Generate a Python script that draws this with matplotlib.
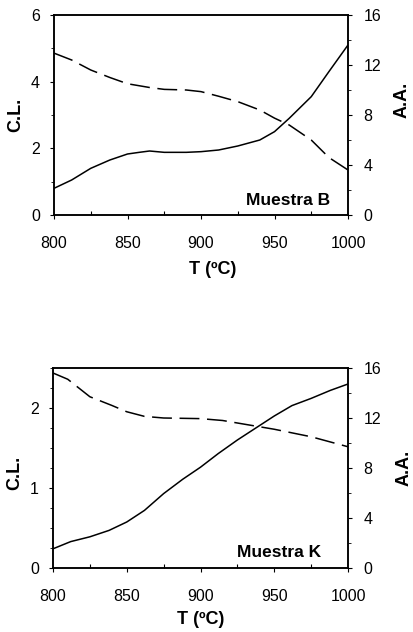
import matplotlib
matplotlib.use("Agg")
import matplotlib.pyplot as plt
from matplotlib.ticker import MultipleLocator

plt.rcParams['font.family'] = ['Liberation Sans', 'DejaVu Sans']

# Muestra B
tB_cl = [800, 812, 825, 838, 850, 858, 865, 875, 890, 900, 912, 925, 940, 950, 960, 975, 987, 1000]
clB   = [0.8, 1.05, 1.4, 1.65, 1.83, 1.88, 1.92, 1.88, 1.88, 1.9, 1.95, 2.07, 2.25, 2.5, 2.9, 3.55, 4.3, 5.1]
tB_aa = [800, 812, 825, 838, 850, 865, 875, 890, 900, 912, 925, 940, 950, 960, 975, 987, 1000]
aaB   = [12.95, 12.4, 11.6, 11.0, 10.5, 10.2, 10.05, 10.0, 9.87, 9.5, 9.07, 8.4, 7.75, 7.2, 6.0, 4.6, 3.6]

# Muestra K
tK_cl = [800, 812, 825, 838, 850, 862, 875, 888, 900, 912, 925, 940, 950, 962, 975, 988, 1000]
clK   = [0.24, 0.33, 0.39, 0.47, 0.575, 0.72, 0.93, 1.11, 1.26, 1.43, 1.6, 1.78, 1.9, 2.03, 2.12, 2.22, 2.3]
tK_aa = [800, 810, 825, 840, 850, 862, 875, 900, 915, 925, 940, 950, 975, 1000]
aaK   = [15.6, 15.1, 13.7, 13.0, 12.5, 12.13, 12.0, 11.95, 11.8, 11.6, 11.3, 11.1, 10.5, 9.7]

xticks = [800, 850, 900, 950, 1000]
lw = 1.1
fs = 11.5
lfs = 13

fig = plt.figure(figsize=(4.13, 6.32), dpi=100)

def setup(rect, tcl, cl, taa, aa, clmax, clmajor, clminor, name, name_pos, lab_cl, lab_aa, lab_x):
    ax = fig.add_axes(rect)
    ax2 = ax.twinx()
    ax.plot(tcl, cl, color='black', lw=lw, solid_capstyle='butt')
    ax2.plot(taa, aa, color='black', lw=lw, dashes=(13, 5))
    ax.set_xlim(800, 1000)
    ax.set_ylim(0, clmax)
    ax2.set_ylim(0, 16)
    ax.set_xticks(xticks)
    ax.xaxis.set_minor_locator(MultipleLocator(25))
    ax.yaxis.set_major_locator(MultipleLocator(clmajor))
    ax.yaxis.set_minor_locator(MultipleLocator(clminor))
    ax2.yaxis.set_major_locator(MultipleLocator(4))
    ax2.yaxis.set_minor_locator(MultipleLocator(2))
    ax.tick_params(axis='x', which='major', direction='out', length=3, width=0.8, pad=12, labelsize=fs)
    ax.tick_params(axis='x', which='minor', direction='in', length=3, width=0.8)
    ax.tick_params(axis='y', which='major', direction='out', length=3, width=0.8, pad=7, labelsize=fs)
    ax.tick_params(axis='y', which='minor', direction='out', length=2, width=0.6)
    ax2.tick_params(axis='y', which='major', direction='out', length=3, width=0.8, pad=8, labelsize=fs)
    ax2.tick_params(axis='y', which='minor', direction='out', length=2, width=0.6)
    for a in (ax, ax2):
        for s in a.spines.values():
            s.set_linewidth(1.1)
    ax.set_ylabel('C.L.', fontsize=lfs, fontweight='bold')
    ax2.set_ylabel('A.A.', fontsize=lfs, fontweight='bold')
    ax.set_xlabel('T (ºC)', fontsize=lfs, fontweight='bold')
    ax.yaxis.set_label_coords(*lab_cl)
    ax2.yaxis.set_label_coords(*lab_aa)
    ax.xaxis.set_label_coords(*lab_x)
    ax.text(name_pos[0], name_pos[1], name, transform=ax.transAxes, ha='right', va='baseline',
            fontsize=12.5, fontweight='bold')
    return ax, ax2

setup([54/413, 1 - 215/632, 294/413, 200/632], tB_cl, clB, tB_aa, aaB, 6, 2, 1,
      'Muestra B', (0.94, 0.05), (-0.10, 0.5), (1.155, 0.575), (0.54, -0.23))
setup([53/413, 1 - 568/632, 295/413, 200/632], tK_cl, clK, tK_aa, aaK, 2.5, 1, 0.25,
      'Muestra K', (0.91, 0.055), (-0.10, 0.475), (1.16, 0.5), (0.5, -0.215))

fig.savefig('out.png', dpi=100)
